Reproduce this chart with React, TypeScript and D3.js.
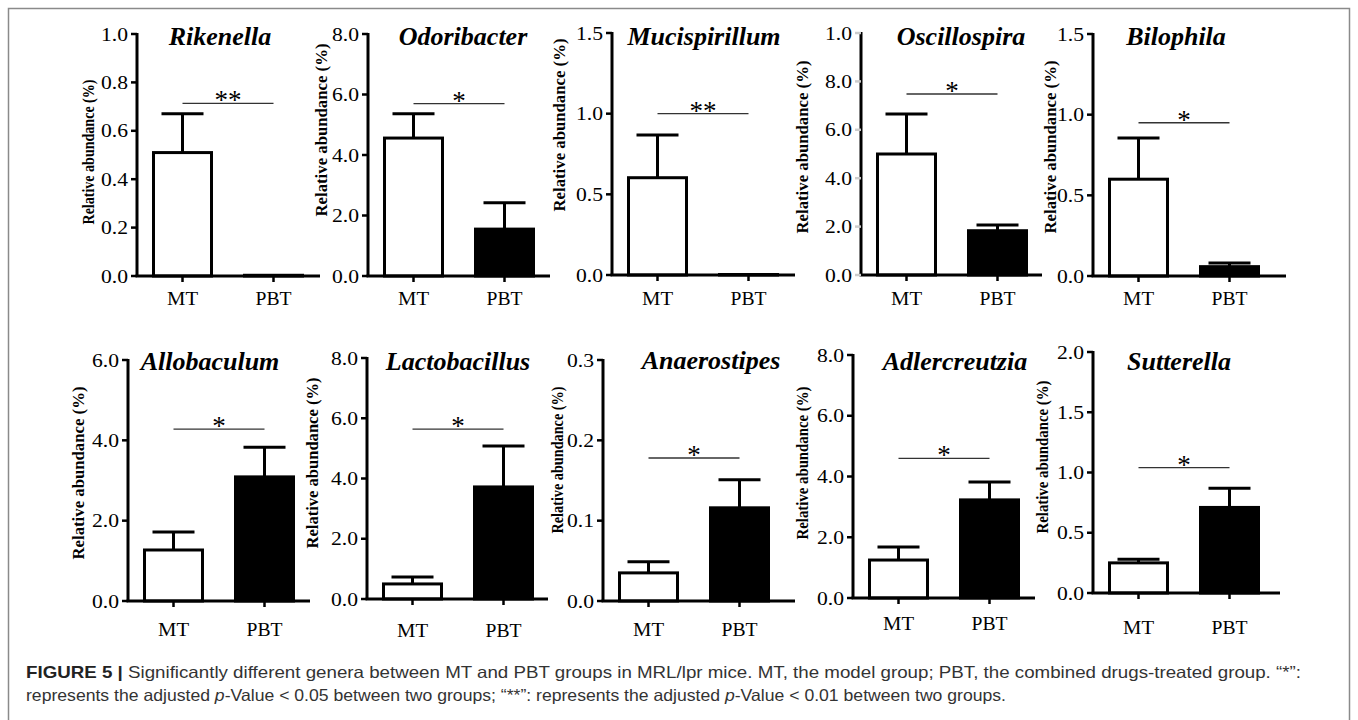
import React from 'react';
import * as d3 from 'd3';

// values (relative abundance, %)
const genera = ['Rikenella', 'Odoribacter', 'Mucispirillum', 'Oscillospira', 'Bilophila',
  'Allobaculum', 'Lactobacillus', 'Anaerostipes', 'Adlercreutzia', 'Sutterella'];
const groups = ['MT', 'PBT'];
const mtMean = [0.51, 4.56, 0.603, 5.0, 0.60, 1.27, 0.5, 0.035, 1.25, 0.25];
const mtSem = [0.16, 0.80, 0.265, 1.65, 0.255, 0.45, 0.23, 0.014, 0.43, 0.03];
const pbtMean = [0.003, 1.55, 0.003, 1.83, 0.058, 3.09, 3.72, 0.116, 3.23, 0.71];
const pbtSem = [0, 0.87, 0, 0.24, 0.022, 0.74, 1.36, 0.035, 0.59, 0.16];
const yMax = [1.0, 8, 1.5, 10, 1.5, 6, 8, 0.3, 8, 2];
const yTicks = [
  [0, 0.2, 0.4, 0.6, 0.8, 1.0], [0, 2, 4, 6, 8], [0, 0.5, 1, 1.5], [0, 2, 4, 6, 8, 10], [0, 0.5, 1, 1.5],
  [0, 2, 4, 6], [0, 2, 4, 6, 8], [0, 0.1, 0.2, 0.3], [0, 2, 4, 6, 8], [0, 0.5, 1, 1.5, 2],
];
const yTickLabels = [
  ['0.0', '0.2', '0.4', '0.6', '0.8', '1.0'], ['0.0', '2.0', '4.0', '6.0', '8.0'], ['0.0', '0.5', '1.0', '1.5'],
  ['0.0', '2.0', '4.0', '6.0', '8.0', '1.0'], ['0.0', '0.5', '1.0', '1.5'],
  ['0.0', '2.0', '4.0', '6.0'], ['0.0', '2.0', '4.0', '6.0', '8.0'], ['0.0', '0.1', '0.2', '0.3'],
  ['0.0', '2.0', '4.0', '6.0', '8.0'], ['0.0', '0.5', '1.0', '1.5', '2.0'],
];
const sigLevel = [0.713, 5.7, 1.0, 7.48, 0.95, 4.28, 5.64, 0.178, 4.6, 1.04];
const sigMark = ['**', '*', '**', '*', '*', '*', '*', '*', '*', '*'];

// panel placement on the page
const layout = [
  { ax: 137, end: 320, top: 34, bottom: 276, tx: 220, ty: 45, yx: 88, yy: 152, yl: 145, ly: 305 },
  { ax: 368, end: 550, top: 34, bottom: 276, tx: 463, ty: 45, yx: 321, yy: 130, yl: 173, ly: 305 },
  { ax: 612, end: 795, top: 33, bottom: 275, tx: 704, ty: 45, yx: 559, yy: 125, yl: 173, ly: 305 },
  { ax: 861, end: 1042, top: 33, bottom: 275, tx: 961, ty: 45, yx: 802, yy: 147, yl: 173, ly: 305, faint: true },
  { ax: 1093, end: 1286, top: 34, bottom: 276, tx: 1176, ty: 45, yx: 1050, yy: 147, yl: 173, ly: 305 },
  { ax: 128, end: 310, top: 360, bottom: 601, tx: 210, ty: 370, yx: 78, yy: 473, yl: 173, ly: 636 },
  { ax: 367, end: 548, top: 358, bottom: 599, tx: 458, ty: 370, yx: 312, yy: 463, yl: 171, ly: 637 },
  { ax: 603, end: 795, top: 360, bottom: 601, tx: 711, ty: 369, yx: 557, yy: 460, yl: 147, ly: 636 },
  { ax: 853, end: 1035, top: 355, bottom: 598, tx: 955, ty: 370, yx: 802, yy: 463, yl: 153, ly: 630 },
  { ax: 1093, end: 1280, top: 352, bottom: 593, tx: 1179, ty: 370, yx: 1042, yy: 457, yl: 153, ly: 634 },
];

const serif = '"Liberation Serif", "Times New Roman", serif';

const Panel: React.FC<{ i: number }> = ({ i }) => {
  const L = layout[i];
  const y = d3.scaleLinear().domain([0, yMax[i]]).range([L.bottom, L.top]);
  const x = d3.scalePoint<string>().domain(groups).range([L.ax, L.ax + 182]).padding(0.5);
  const barW = 58;
  const capW = 42;
  const means = [mtMean[i], pbtMean[i]];
  const sems = [mtSem[i], pbtSem[i]];
  const tickColor = L.faint ? '#ccc' : '#000';

  return (
    <g>
      <text x={L.tx} y={L.ty} textAnchor="middle" fontFamily={serif} fontSize={26}
        fontWeight="bold" fontStyle="italic">{genera[i]}</text>
      <text transform={`translate(${L.yx},${L.yy}) rotate(-90)`} textAnchor="middle" dy="0.35em"
        fontFamily={serif} fontSize={17} fontWeight="bold" textLength={L.yl}
        lengthAdjust="spacingAndGlyphs">Relative abundance (%)</text>

      {groups.map((g, k) => {
        const cx = x(g) as number;
        const top = y(means[k]);
        const errTop = y(means[k] + sems[k]);
        return (
          <g key={g}>
            {sems[k] > 0 && (
              <>
                <line x1={cx} x2={cx} y1={top} y2={errTop} stroke="#000" strokeWidth={3} />
                <line x1={cx - capW / 2} x2={cx + capW / 2} y1={errTop} y2={errTop} stroke="#000" strokeWidth={3} />
              </>
            )}
            <rect x={cx - barW / 2} y={top} width={barW} height={Math.max(L.bottom - top, 0.5)}
              fill={k === 0 ? '#fff' : '#000'} stroke="#000" strokeWidth={3} />
            <line x1={cx} x2={cx} y1={L.bottom} y2={L.bottom + 6} stroke="#000" strokeWidth={2.5} />
            <text x={cx} y={L.ly} textAnchor="middle" fontFamily={serif} fontSize={18.5}
              textLength={g.length === 2 ? 31 : 36} lengthAdjust="spacingAndGlyphs">{g}</text>
          </g>
        );
      })}

      {/* axes */}
      <line x1={L.ax} x2={L.ax} y1={L.top - 1} y2={L.bottom} stroke="#000" strokeWidth={3} />
      <line x1={L.ax - 1.5} x2={L.end} y1={L.bottom} y2={L.bottom} stroke="#000" strokeWidth={3} />
      {yTicks[i].map((t, k) => (
        <g key={k}>
          <line x1={L.ax - 6} x2={L.ax} y1={y(t)} y2={y(t)} stroke={tickColor} strokeWidth={2.5} />
          <text x={L.ax - 9} y={y(t)} dy="0.35em" textAnchor="end" fontFamily={serif} fontSize={19}
            textLength={27} lengthAdjust="spacingAndGlyphs">
            {yTickLabels[i][k]}
          </text>
        </g>
      ))}

      {/* significance */}
      <line x1={x('MT')} x2={x('PBT')} y1={y(sigLevel[i])} y2={y(sigLevel[i])} stroke="#333" strokeWidth={1.3} />
      <text x={((x('MT') as number) + (x('PBT') as number)) / 2} y={y(sigLevel[i]) + 6} textAnchor="middle"
        fontFamily={serif} fontSize={27}>{sigMark[i]}</text>
    </g>
  );
};

const sans = '"Liberation Sans", Arial, Helvetica, sans-serif';

const App: React.FC = () => (
  <div style={{ position: 'fixed', left: 0, top: 0 }}>
    <svg width={1358} height={720} style={{ display: 'block', background: '#fff' }}>
      <rect x={8.5} y={8.5} width={1341} height={720} fill="none" stroke="#8a8a8a" strokeWidth={1.5} />
      {genera.map((_, i) => <Panel key={i} i={i} />)}
      <text x={26} y={678} fontFamily={sans} fontSize={16.5} fill="#333" textLength={1275}
        lengthAdjust="spacingAndGlyphs">
        <tspan fontWeight="bold" fill="#222">FIGURE 5 |</tspan>
        <tspan> Significantly different genera between MT and PBT groups in MRL/lpr mice. MT, the model group; PBT, the combined drugs-treated group. “*”:</tspan>
      </text>
      <text x={26} y={701} fontFamily={sans} fontSize={16.5} fill="#333" textLength={980}
        lengthAdjust="spacingAndGlyphs">
        represents the adjusted <tspan fontStyle="italic">p</tspan>-Value {'<'} 0.05 between two groups; “**”: represents the adjusted <tspan fontStyle="italic">p</tspan>-Value {'<'} 0.01 between two groups.
      </text>
    </svg>
  </div>
);

export default App;
